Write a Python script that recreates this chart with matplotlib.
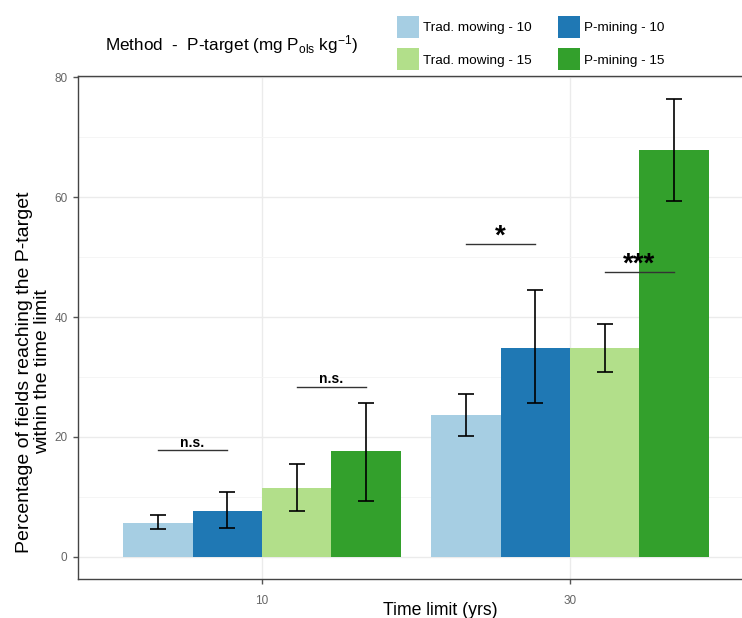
import matplotlib
matplotlib.use('Agg')
import matplotlib.pyplot as plt
import numpy as np
from matplotlib.patches import Patch

plt.rcParams['font.family'] = ['Liberation Sans', 'DejaVu Sans']
plt.rcParams['mathtext.default'] = 'regular'

# data
groups = ['10', '30']
series = ['Trad. mowing - 10', 'P-mining - 10', 'Trad. mowing - 15', 'P-mining - 15']
colors = ['#A6CEE3', '#1F78B4', '#B2DF8A', '#33A02C']
means = {
    '10': [5.7, 7.7, 11.5, 17.6],
    '30': [23.7, 34.9, 34.8, 67.8],
}
lower = {
    '10': [4.6, 4.8, 7.6, 9.3],
    '30': [20.2, 25.6, 30.8, 59.4],
}
upper = {
    '10': [7.0, 10.8, 15.4, 25.7],
    '30': [27.1, 44.5, 38.9, 76.4],
}
# significance: (group, first bar, second bar, height, label)
sig = [
    ('10', 0, 1, 17.8, 'n.s.'),
    ('10', 2, 3, 28.4, 'n.s.'),
    ('30', 0, 1, 52.1, '*'),
    ('30', 2, 3, 47.5, '***'),
]

fig = plt.figure(figsize=(7.42, 6.18), dpi=100)
ax = fig.add_axes([78/742, 39/618, 1 - 78/742, (579-76)/618])

width = 0.225
offsets = (np.arange(4) - 1.5) * width
xg = np.arange(1, len(groups) + 1)

for i in range(4):
    m = np.array([means[g][i] for g in groups])
    ax.bar(xg + offsets[i], m, width=width, color=colors[i], zorder=2, label=series[i])
    lo = m - np.array([lower[g][i] for g in groups])
    hi = np.array([upper[g][i] for g in groups]) - m
    ax.errorbar(xg + offsets[i], m, yerr=[lo, hi], fmt='none', ecolor='black',
                elinewidth=1.2, capsize=5.5, capthick=1.2, zorder=3)

for g, a, b, yv, lab in sig:
    gx = xg[groups.index(g)]
    ax.plot([gx + offsets[a], gx + offsets[b]], [yv, yv], color='#333333', lw=1.0, zorder=4)
    mid = gx + (offsets[a] + offsets[b]) / 2
    if lab == 'n.s.':
        ax.text(mid, yv + 0.05, lab, ha='center', va='bottom', fontsize=10,
                fontweight='bold', zorder=5)
    else:
        ax.text(mid, yv + 1.3, lab, ha='center', va='center', fontsize=20,
                fontweight='bold', zorder=5)

ax.set_xlim(0.403, 2.558)
ax.set_ylim(-3.7, 80.2)
ax.set_yticks([0, 20, 40, 60, 80])
ax.set_yticks([10, 30, 50, 70], minor=True)
ax.set_xticks(xg)
ax.set_xticklabels(groups)
ax.grid(True, which='major', color='#EBEBEB', lw=1.0, zorder=0)
ax.grid(True, which='minor', axis='y', color='#F4F4F4', lw=0.6, zorder=0)
ax.set_axisbelow(True)
ax.tick_params(axis='both', which='major', colors='#555555', labelcolor='#666666',
               labelsize=8.5, length=3.5, width=1.0)
ax.tick_params(axis='x', pad=8)
ax.tick_params(axis='y', pad=4)
ax.tick_params(which='minor', length=0)
for s in ['left', 'bottom', 'top']:
    ax.spines[s].set_color('#444444')
    ax.spines[s].set_linewidth(1.0)
ax.spines['right'].set_visible(False)

ax.set_xlabel('Time limit (yrs)', fontsize=12.7)
ax.xaxis.set_label_coords((440 - 78) / (742 - 78), -0.045)
ax.set_ylabel('Percentage of fields reaching the P-target\nwithin the time limit',
              fontsize=14, linespacing=1.05)
ax.yaxis.set_label_coords(-(78 - 51) / (742 - 78), (579 - 372) / (579 - 76))

fig.text(105/742, 1 - 45/618, 'Method  -  P-target (mg P$_{ols}$ kg$^{-1}$)',
         fontsize=12.3, va='center', ha='left')
order = [0, 2, 1, 3]
leg_handles = [Patch(facecolor=colors[i], edgecolor='none') for i in order]
fig.legend(leg_handles, [series[i] for i in order], ncol=2, loc='upper left',
           bbox_to_anchor=(397/742, 1 - 16/618), frameon=False, fontsize=9.7,
           handlelength=1.65, handleheight=2.1, handletextpad=0.3,
           labelspacing=0.8, columnspacing=1.9, borderpad=0, borderaxespad=0)

fig.savefig('out.png', dpi=100)
